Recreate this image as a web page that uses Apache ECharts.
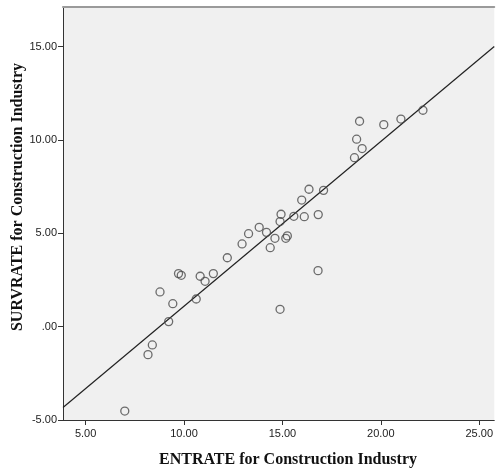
<!DOCTYPE html>
<html>
<head>
<meta charset="utf-8">
<script src="https://cdn.jsdelivr.net/npm/echarts@6/dist/echarts.min.js"></script>
<style>html,body{margin:0;padding:0;background:#fff}#c{width:496px;height:470px}</style>
</head>
<body>
<div id="c"></div>
<script>
const entrate = [6.99, 8.17, 8.39, 9.22, 9.43, 8.78, 10.62, 9.72, 9.86, 10.82, 11.07, 11.49, 12.20, 12.95, 13.28, 13.82, 14.19, 14.38, 14.62, 14.88, 14.93, 15.17, 15.25, 15.58, 15.98, 16.11, 16.35, 16.82, 17.09, 16.81, 14.88, 18.92, 18.77, 19.05, 18.66, 20.15, 21.02, 22.14];
const survrate = [-4.52, -1.50, -0.98, 0.27, 1.23, 1.86, 1.48, 2.84, 2.75, 2.70, 2.43, 2.84, 3.69, 4.43, 4.98, 5.32, 5.05, 4.23, 4.73, 5.63, 6.02, 4.73, 4.86, 5.91, 6.78, 5.89, 7.36, 6.00, 7.30, 3.00, 0.93, 11.00, 10.04, 9.54, 9.05, 10.82, 11.12, 11.59];
const xTicks = [5, 10, 15, 20, 25];
const yTicks = [-5, 0, 5, 10, 15];
const xTitle = 'ENTRATE for Construction Industry';
const yTitle = 'SURVRATE for Construction Industry';
const xMin = 3.851, xMax = 25.764, yMin = -5, yMax = 17.12;

// least squares fit line
const n = entrate.length;
const mx = entrate.reduce((a, b) => a + b, 0) / n;
const my = survrate.reduce((a, b) => a + b, 0) / n;
let sxy = 0, sxx = 0;
for (let i = 0; i < n; i++) { sxy += (entrate[i] - mx) * (survrate[i] - my); sxx += (entrate[i] - mx) ** 2; }
const slope = sxy / sxx, intercept = my - slope * mx;

const fmt = v => { let s = v.toFixed(2); if (s === '0.00') s = '.00'; return s; };

const chart = echarts.init(document.getElementById('c'), null, { renderer: 'canvas' });
chart.setOption({
  animation: false,
  backgroundColor: '#ffffff',
  grid: { left: 63, top: 7, right: 0, bottom: 50, show: true, backgroundColor: '#f0f0f0', borderWidth: 0 },
  xAxis: [{
    type: 'value', min: xMin, max: xMax,
    axisLine: { show: true, onZero: false, lineStyle: { color: '#333', width: 1 } },
    axisTick: { show: true, length: 5, lineStyle: { color: '#333' }, customValues: xTicks },
    axisLabel: { customValues: xTicks, formatter: fmt, color: '#222', fontFamily: 'Liberation Sans, Arial, sans-serif', fontSize: 11, margin: 8 },
    splitLine: { show: false }
  }, {
    type: 'value', position: 'top', min: xMin, max: xMax,
    axisLine: { show: true, onZero: false, lineStyle: { color: '#9a9a9a', width: 2 } },
    axisTick: { show: false }, axisLabel: { show: false }, splitLine: { show: false }
  }],
  yAxis: {
    type: 'value', min: yMin, max: yMax,
    axisLine: { show: true, onZero: false, lineStyle: { color: '#333', width: 1 } },
    axisTick: { show: true, length: 5, lineStyle: { color: '#333' }, customValues: yTicks },
    axisLabel: { customValues: yTicks, formatter: fmt, color: '#222', fontFamily: 'Liberation Sans, Arial, sans-serif', fontSize: 11, margin: 6 },
    splitLine: { show: false }
  },
  graphic: [
    { type: 'text', x: 288, y: 460, style: { text: xTitle, font: 'bold 16px "Liberation Serif", "Times New Roman", serif', fill: '#111', textAlign: 'center', textVerticalAlign: 'middle' } },
    { type: 'text', x: 18, y: 197, rotation: Math.PI / 2, style: { text: yTitle, font: 'bold 16px "Liberation Serif", "Times New Roman", serif', fill: '#111', textAlign: 'center', textVerticalAlign: 'middle' } }
  ],
  series: [
    {
      type: 'line', data: [[xMin, slope * xMin + intercept], [xMax, slope * xMax + intercept]],
      symbol: 'none', lineStyle: { color: '#222', width: 1.2 }, silent: true, z: 1
    },
    {
      type: 'scatter', data: entrate.map((x, i) => [x, survrate[i]]),
      symbol: 'circle', symbolSize: 8,
      itemStyle: { color: 'rgba(0,0,0,0)', borderColor: '#4a4a4a', borderWidth: 1.3 }, z: 2
    }
  ]
});
</script>
</body>
</html>
